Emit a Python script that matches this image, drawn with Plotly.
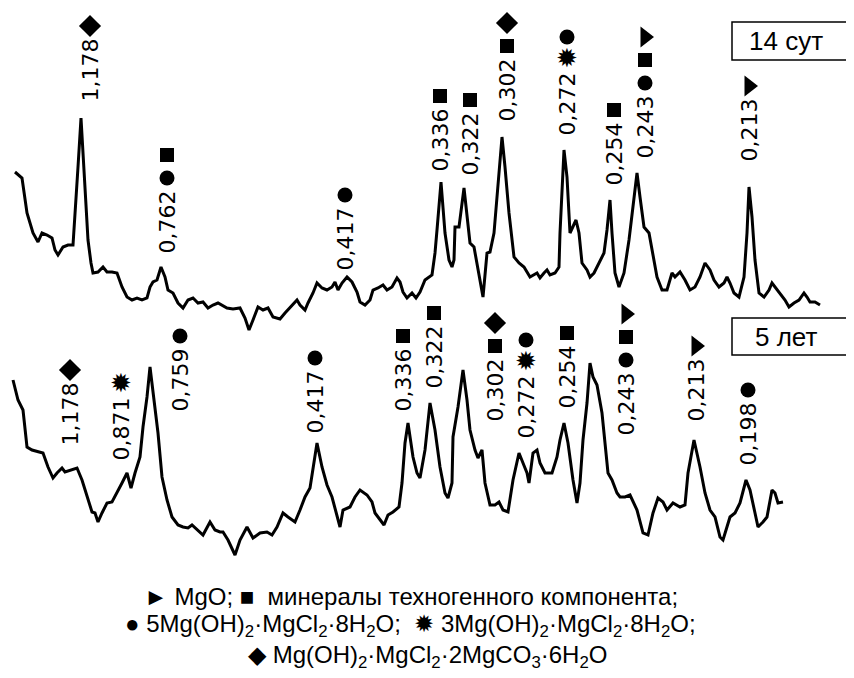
import plotly.graph_objects as go

# ---------------- data ----------------
# position along the scan (arbitrary units, left to right)
top_pos = [15, 22, 27, 33, 38, 42, 47, 52, 55, 58, 63, 68, 73, 75, 78, 81, 83, 86, 88, 91, 93, 98, 103, 107, 112, 117,
           122, 127, 132, 137, 142, 147, 150, 153, 157, 161, 165, 168, 173, 178, 183, 188, 193, 198, 203, 208, 213, 218,
           227, 233, 240, 245, 249, 253, 258, 263, 268, 273, 280, 285, 290, 297, 300, 305, 308, 313, 317, 322, 327, 332,
           335, 338, 342, 347, 352, 357, 360, 365, 370, 373, 378, 383, 387, 392, 397, 400, 403, 407, 412, 416, 420, 425,
           432, 435, 437, 441, 445, 449, 452, 454, 455, 459, 464, 467, 470, 474, 479, 483, 487, 490, 494, 497, 502, 505,
           509, 514, 519, 524, 530, 537, 540, 544, 547, 550, 555, 559, 560, 564, 567, 570, 574, 576, 579, 582, 587, 590,
           594, 599, 604, 607, 610, 612, 615, 619, 624, 629, 634, 637, 640, 644, 649, 654, 657, 662, 667, 672, 675, 680,
           685, 690, 695, 700, 705, 710, 714, 719, 724, 727, 730, 734, 739, 744, 747, 749, 752, 755, 759, 764, 769, 772,
           777, 780, 785, 789, 794, 799, 804, 807, 810, 815, 820]
# intensity, 14 days (arbitrary units)
top_int = [158, 152, 117, 97, 88, 97, 95, 92, 80, 75, 83, 85, 85, 113, 163, 212, 180, 123, 90, 67, 57, 58, 63, 58, 58, 57,
           43, 33, 30, 32, 30, 32, 43, 48, 50, 63, 53, 40, 37, 27, 22, 30, 32, 27, 28, 22, 25, 27,
           22, 21, 22, 12, 0, 10, 23, 20, 22, 13, 11, 17, 22, 30, 25, 20, 27, 37, 47, 42, 40, 43,
           48, 40, 47, 53, 48, 38, 28, 25, 30, 40, 42, 45, 40, 43, 52, 48, 38, 32, 37, 32, 38, 50,
           55, 77, 100, 148, 97, 70, 63, 70, 103, 103, 142, 113, 87, 83, 57, 33, 77, 78, 97, 130, 193, 163,
           117, 73, 67, 63, 53, 57, 52, 57, 60, 55, 57, 63, 97, 180, 153, 97, 107, 110, 97, 67, 60, 53,
           57, 67, 77, 100, 130, 97, 57, 43, 57, 90, 130, 157, 133, 103, 97, 70, 53, 40, 40, 57, 53, 58,
           50, 40, 43, 53, 67, 60, 50, 43, 47, 53, 47, 37, 33, 53, 97, 143, 113, 70, 37, 33, 40, 47,
           40, 37, 30, 23, 27, 30, 37, 33, 28, 28, 25]

bot_pos = [13, 18, 23, 27, 32, 40, 43, 48, 53, 57, 62, 65, 70, 77, 82, 87, 92, 95, 98, 102, 107, 112, 117, 122, 127,
           131, 135, 138, 140, 143, 147, 150, 153, 158, 162, 167, 172, 178, 183, 188, 192, 197, 203, 210, 215, 220,
           223, 228, 235, 240, 247, 253, 260, 267, 272, 277, 283, 288, 295, 300, 305, 310, 317, 322, 327, 332, 337,
           340, 343, 350, 355, 360, 367, 372, 375, 380, 384, 388, 393, 399, 402, 405, 408, 413, 417, 420, 425, 430,
           435, 440, 445, 448, 452, 453, 458, 463, 467, 470, 475, 478, 482, 485, 490, 495, 499, 503, 508, 513, 519,
           523, 527, 529, 533, 537, 540, 545, 552, 557, 560, 564, 568, 573, 577, 580, 583, 587, 590, 593, 597, 602,
           605, 608, 612, 617, 620, 625, 630, 637, 643, 648, 653, 658, 663, 667, 673, 680, 685, 688, 694, 700, 705,
           710, 715, 720, 723, 727, 730, 735, 740, 746, 750, 755, 758, 763, 767, 772, 775, 778, 783]
# intensity, 5 years (arbitrary units)
bot_int = [180, 160, 150, 113, 110, 108, 107, 93, 82, 87, 92, 88, 90, 92, 80, 63, 48, 47, 38, 47, 57, 58, 67, 77, 87,
           72, 87, 97, 103, 133, 163, 193, 167, 127, 83, 60, 43, 35, 33, 32, 35, 30, 25, 38, 30, 28,
           28, 20, 5, 20, 33, 22, 27, 28, 25, 33, 47, 43, 38, 50, 63, 72, 117, 93, 75, 63, 43,
           33, 50, 53, 63, 70, 65, 58, 47, 40, 35, 45, 48, 53, 77, 117, 137, 103, 87, 82, 110, 157,
           130, 93, 67, 62, 77, 123, 153, 190, 160, 130, 110, 102, 110, 77, 55, 55, 58, 50, 48, 80, 107,
           97, 87, 77, 107, 110, 97, 87, 87, 103, 120, 137, 117, 80, 57, 77, 120, 157, 197, 183, 175, 147,
           120, 87, 80, 67, 63, 63, 65, 50, 27, 25, 47, 62, 58, 50, 57, 53, 55, 87, 120, 93, 67,
           50, 43, 23, 20, 33, 43, 47, 57, 80, 70, 47, 33, 38, 43, 70, 67, 57, 58]

# peak labels (interplanar spacing, nm) and phase symbols
top_labels = ["1,178", "0,762", "0,417", "0,336", "0,322", "0,302", "0,272", "0,254", "0,243", "0,213"]
top_label_pos = [90, 167, 345, 440, 470, 507, 567, 614, 645, 749]
top_label_level = [227, 75, 58, 157, 153, 207, 193, 143, 170, 167]
top_phases = [["D"], ["C", "S"], ["C"], ["S"], ["S"], ["S", "D"], ["X", "C"], ["S"], ["C", "S", "T"], ["T"]]

bot_labels = ["1,178", "0,871", "0,759", "0,417", "0,336", "0,322", "0,302", "0,272", "0,254", "0,243", "0,213", "0,198"]
bot_label_pos = [70, 121, 180, 315, 403, 434, 495, 526, 567, 626, 696, 748]
bot_label_level = [113, 98, 147, 125, 147, 170, 137, 120, 150, 123, 137, 93]
bot_phases = [["D"], ["X"], ["C"], ["C"], ["S"], ["S"], ["S", "D"], ["X", "C"], ["S"], ["C", "S", "T"], ["T"], ["C"]]

sample_names = ["14 сут", "5 лет"]

legend_lines = [
    "► MgO; ■  минералы техногенного компонента;",
    "● 5Mg(OH)<sub>2</sub>·MgCl<sub>2</sub>·8H<sub>2</sub>O;  ✹ 3Mg(OH)<sub>2</sub>·MgCl<sub>2</sub>·8H<sub>2</sub>O;",
    "◆ Mg(OH)<sub>2</sub>·MgCl<sub>2</sub>·2MgCO<sub>3</sub>·6H<sub>2</sub>O",
]

# ---------------- layout constants ----------------
W, H = 854, 678
PAGE_PAD = 8       # default body margin of the html page
TOP_OFFSET = 348
BOT_OFFSET = 118
LABEL_LEN = 77     # distance from label base to first symbol
SYM_STEP = 23      # stacking step of symbols

sym_style = {
    "T": dict(symbol="triangle-right", size=18),
    "S": dict(symbol="square", size=14),
    "C": dict(symbol="circle", size=15),
    "D": dict(symbol="diamond", size=17),
}

fig = go.Figure()

fig.add_trace(go.Scatter(x=top_pos, y=[v + TOP_OFFSET for v in top_int], mode="lines",
                         line=dict(color="black", width=3), hoverinfo="skip", showlegend=False))
fig.add_trace(go.Scatter(x=bot_pos, y=[v + BOT_OFFSET for v in bot_int], mode="lines",
                         line=dict(color="black", width=3), hoverinfo="skip", showlegend=False))

annotations = []
sym_pts = {k: ([], []) for k in list(sym_style) + ["X"]}

for labels, xs, levels, phases, off in [
    (top_labels, top_label_pos, top_label_level, top_phases, TOP_OFFSET),
    (bot_labels, bot_label_pos, bot_label_level, bot_phases, BOT_OFFSET),
]:
    for lab, x, lev, ph in zip(labels, xs, levels, phases):
        base = lev + off
        annotations.append(dict(x=x, y=base, xref="x", yref="y", text=lab, textangle=-90,
                                showarrow=False, xanchor="center", yanchor="bottom", borderpad=0,
                                font=dict(family="DejaVu Sans", size=22, color="black")))
        for i, p in enumerate(ph):
            sym_pts[p][0].append(x)
            sym_pts[p][1].append(base + LABEL_LEN + i * SYM_STEP)

for k, st in sym_style.items():
    fig.add_trace(go.Scatter(x=sym_pts[k][0], y=sym_pts[k][1], mode="markers",
                             marker=dict(color="black", symbol=st["symbol"], size=st["size"], line=dict(width=0)),
                             hoverinfo="skip", showlegend=False))
fig.add_trace(go.Scatter(x=sym_pts["X"][0], y=sym_pts["X"][1], mode="text", text=["✹"] * len(sym_pts["X"][0]),
                         textfont=dict(family="DejaVu Sans", size=26, color="black"),
                         hoverinfo="skip", showlegend=False))

# sample boxes
shapes = []
for name, (y0, y1), yc in zip(sample_names, [(618, 656), (323, 360)], [637, 341]):
    shapes.append(dict(type="rect", xref="x", yref="y", x0=732, x1=880, y0=y0, y1=y1,
                       line=dict(color="black", width=1.5), fillcolor="white"))
    annotations.append(dict(x=786, y=yc, xref="x", yref="y", text=name, showarrow=False,
                            font=dict(family="Liberation Sans", size=26, color="black")))

# legend text
for line, xc, yc in zip(legend_lines, [411, 410, 427], [82, 53, 22]):
    annotations.append(dict(x=xc, y=yc, xref="x", yref="y", text=line, showarrow=False,
                            font=dict(family="Liberation Sans", size=24, color="black")))

fig.update_layout(
    width=W, height=H, margin=dict(l=0, r=0, t=0, b=0),
    paper_bgcolor="white", plot_bgcolor="white",
    xaxis=dict(range=[PAGE_PAD, W + PAGE_PAD], visible=False, fixedrange=True),
    yaxis=dict(range=[-PAGE_PAD, H - PAGE_PAD], visible=False, fixedrange=True),
    shapes=shapes, annotations=annotations, showlegend=False,
)

fig.write_html("out.html")
